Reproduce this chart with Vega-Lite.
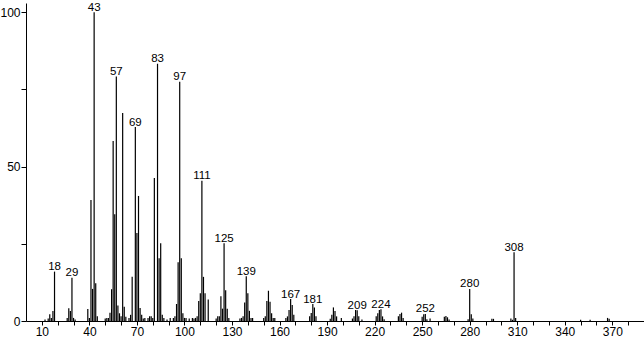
{
  "$schema": "https://vega.github.io/schema/vega-lite/v6.json",
  "width": 618,
  "height": 318,
  "autosize": {"type": "none"},
  "padding": {"left": 26, "top": 3, "right": 0, "bottom": 18},
  "background": "white",
  "config": {
    "view": {"stroke": null},
    "font": "Liberation Sans",
    "axis": {"labelFont": "Liberation Sans", "labelFontSize": 12, "labelColor": "black", "domainColor": "black", "tickColor": "black", "grid": false, "title": null}
  },
  "data": {"values": [
    {"mz": 12, "intensity": 0.5, "label": ""},
    {"mz": 14, "intensity": 0.8, "label": ""},
    {"mz": 15, "intensity": 2.2, "label": ""},
    {"mz": 16, "intensity": 1, "label": ""},
    {"mz": 17, "intensity": 3.2, "label": ""},
    {"mz": 18, "intensity": 16, "label": "18"},
    {"mz": 26, "intensity": 1, "label": ""},
    {"mz": 27, "intensity": 4.1, "label": ""},
    {"mz": 28, "intensity": 3.2, "label": ""},
    {"mz": 29, "intensity": 14, "label": "29"},
    {"mz": 30, "intensity": 1, "label": ""},
    {"mz": 31, "intensity": 0.5, "label": ""},
    {"mz": 39, "intensity": 3.9, "label": ""},
    {"mz": 40, "intensity": 1, "label": ""},
    {"mz": 41, "intensity": 39.2, "label": ""},
    {"mz": 42, "intensity": 10.4, "label": ""},
    {"mz": 43, "intensity": 100, "label": "43"},
    {"mz": 44, "intensity": 12.2, "label": ""},
    {"mz": 45, "intensity": 1.5, "label": ""},
    {"mz": 50, "intensity": 0.8, "label": ""},
    {"mz": 51, "intensity": 1, "label": ""},
    {"mz": 52, "intensity": 1, "label": ""},
    {"mz": 53, "intensity": 2.7, "label": ""},
    {"mz": 54, "intensity": 10.3, "label": ""},
    {"mz": 55, "intensity": 58.3, "label": ""},
    {"mz": 56, "intensity": 34.6, "label": ""},
    {"mz": 57, "intensity": 79.2, "label": "57"},
    {"mz": 58, "intensity": 5, "label": ""},
    {"mz": 59, "intensity": 2.5, "label": ""},
    {"mz": 60, "intensity": 1.5, "label": ""},
    {"mz": 61, "intensity": 67.4, "label": ""},
    {"mz": 62, "intensity": 4.6, "label": ""},
    {"mz": 63, "intensity": 1.4, "label": ""},
    {"mz": 65, "intensity": 1, "label": ""},
    {"mz": 66, "intensity": 2, "label": ""},
    {"mz": 67, "intensity": 14.3, "label": ""},
    {"mz": 69, "intensity": 62.8, "label": "69"},
    {"mz": 70, "intensity": 28.5, "label": ""},
    {"mz": 71, "intensity": 40.5, "label": ""},
    {"mz": 72, "intensity": 4.2, "label": ""},
    {"mz": 73, "intensity": 2, "label": ""},
    {"mz": 74, "intensity": 0.8, "label": ""},
    {"mz": 75, "intensity": 1, "label": ""},
    {"mz": 77, "intensity": 1, "label": ""},
    {"mz": 78, "intensity": 1.5, "label": ""},
    {"mz": 79, "intensity": 1.5, "label": ""},
    {"mz": 80, "intensity": 1, "label": ""},
    {"mz": 81, "intensity": 46.3, "label": ""},
    {"mz": 83, "intensity": 83.3, "label": "83"},
    {"mz": 84, "intensity": 20.3, "label": ""},
    {"mz": 85, "intensity": 25.2, "label": ""},
    {"mz": 86, "intensity": 2, "label": ""},
    {"mz": 87, "intensity": 1, "label": ""},
    {"mz": 89, "intensity": 0.5, "label": ""},
    {"mz": 91, "intensity": 1, "label": ""},
    {"mz": 93, "intensity": 1, "label": ""},
    {"mz": 94, "intensity": 1.5, "label": ""},
    {"mz": 95, "intensity": 5.5, "label": ""},
    {"mz": 96, "intensity": 19, "label": ""},
    {"mz": 97, "intensity": 77.5, "label": "97"},
    {"mz": 98, "intensity": 20.3, "label": ""},
    {"mz": 99, "intensity": 2.5, "label": ""},
    {"mz": 100, "intensity": 1, "label": ""},
    {"mz": 101, "intensity": 1, "label": ""},
    {"mz": 103, "intensity": 0.8, "label": ""},
    {"mz": 105, "intensity": 1, "label": ""},
    {"mz": 106, "intensity": 0.8, "label": ""},
    {"mz": 107, "intensity": 1, "label": ""},
    {"mz": 108, "intensity": 1.5, "label": ""},
    {"mz": 109, "intensity": 6.5, "label": ""},
    {"mz": 110, "intensity": 9, "label": ""},
    {"mz": 111, "intensity": 45.4, "label": "111"},
    {"mz": 112, "intensity": 14.3, "label": ""},
    {"mz": 113, "intensity": 9, "label": ""},
    {"mz": 115, "intensity": 7, "label": ""},
    {"mz": 120, "intensity": 0.8, "label": ""},
    {"mz": 121, "intensity": 1.5, "label": ""},
    {"mz": 122, "intensity": 1.5, "label": ""},
    {"mz": 123, "intensity": 8, "label": ""},
    {"mz": 124, "intensity": 4, "label": ""},
    {"mz": 125, "intensity": 25.2, "label": "125"},
    {"mz": 126, "intensity": 10, "label": ""},
    {"mz": 127, "intensity": 4, "label": ""},
    {"mz": 128, "intensity": 1, "label": ""},
    {"mz": 135, "intensity": 0.8, "label": ""},
    {"mz": 136, "intensity": 1, "label": ""},
    {"mz": 137, "intensity": 1.5, "label": ""},
    {"mz": 138, "intensity": 6, "label": ""},
    {"mz": 139, "intensity": 14.5, "label": "139"},
    {"mz": 140, "intensity": 9, "label": ""},
    {"mz": 141, "intensity": 3.3, "label": ""},
    {"mz": 142, "intensity": 1, "label": ""},
    {"mz": 143, "intensity": 1, "label": ""},
    {"mz": 150, "intensity": 1, "label": ""},
    {"mz": 151, "intensity": 1.5, "label": ""},
    {"mz": 152, "intensity": 6.5, "label": ""},
    {"mz": 153, "intensity": 9.8, "label": ""},
    {"mz": 154, "intensity": 6.2, "label": ""},
    {"mz": 155, "intensity": 2.5, "label": ""},
    {"mz": 156, "intensity": 1, "label": ""},
    {"mz": 157, "intensity": 1, "label": ""},
    {"mz": 164, "intensity": 1, "label": ""},
    {"mz": 165, "intensity": 1.5, "label": ""},
    {"mz": 166, "intensity": 3.6, "label": ""},
    {"mz": 167, "intensity": 7.1, "label": "167"},
    {"mz": 168, "intensity": 5.2, "label": ""},
    {"mz": 169, "intensity": 2, "label": ""},
    {"mz": 179, "intensity": 1.5, "label": ""},
    {"mz": 180, "intensity": 2.6, "label": ""},
    {"mz": 181, "intensity": 5.5, "label": "181"},
    {"mz": 182, "intensity": 4.4, "label": ""},
    {"mz": 183, "intensity": 1.5, "label": ""},
    {"mz": 192, "intensity": 0.7, "label": ""},
    {"mz": 193, "intensity": 2, "label": ""},
    {"mz": 194, "intensity": 4.4, "label": ""},
    {"mz": 195, "intensity": 3.2, "label": ""},
    {"mz": 196, "intensity": 1.5, "label": ""},
    {"mz": 199, "intensity": 1, "label": ""},
    {"mz": 206, "intensity": 0.8, "label": ""},
    {"mz": 207, "intensity": 1.5, "label": ""},
    {"mz": 208, "intensity": 3.6, "label": ""},
    {"mz": 209, "intensity": 3.5, "label": "209"},
    {"mz": 210, "intensity": 1.5, "label": ""},
    {"mz": 212, "intensity": 0.5, "label": ""},
    {"mz": 221, "intensity": 1.5, "label": ""},
    {"mz": 222, "intensity": 2.5, "label": ""},
    {"mz": 223, "intensity": 3.6, "label": ""},
    {"mz": 224, "intensity": 3.8, "label": "224"},
    {"mz": 225, "intensity": 1.5, "label": ""},
    {"mz": 226, "intensity": 0.6, "label": ""},
    {"mz": 235, "intensity": 1.5, "label": ""},
    {"mz": 236, "intensity": 2.3, "label": ""},
    {"mz": 237, "intensity": 2.7, "label": ""},
    {"mz": 238, "intensity": 1, "label": ""},
    {"mz": 250, "intensity": 1.4, "label": ""},
    {"mz": 251, "intensity": 2.2, "label": ""},
    {"mz": 252, "intensity": 2.3, "label": "252"},
    {"mz": 253, "intensity": 0.6, "label": ""},
    {"mz": 255, "intensity": 0.8, "label": ""},
    {"mz": 264, "intensity": 1.4, "label": ""},
    {"mz": 265, "intensity": 1.6, "label": ""},
    {"mz": 266, "intensity": 1.2, "label": ""},
    {"mz": 267, "intensity": 0.5, "label": ""},
    {"mz": 279, "intensity": 0.6, "label": ""},
    {"mz": 280, "intensity": 10.4, "label": "280"},
    {"mz": 281, "intensity": 2.2, "label": ""},
    {"mz": 282, "intensity": 0.8, "label": ""},
    {"mz": 294, "intensity": 0.7, "label": ""},
    {"mz": 295, "intensity": 0.7, "label": ""},
    {"mz": 306, "intensity": 0.8, "label": ""},
    {"mz": 307, "intensity": 0.4, "label": ""},
    {"mz": 308, "intensity": 22.3, "label": "308"},
    {"mz": 309, "intensity": 1, "label": ""},
    {"mz": 350, "intensity": 0.4, "label": ""},
    {"mz": 356, "intensity": 0.4, "label": ""},
    {"mz": 367, "intensity": 1, "label": ""},
    {"mz": 368, "intensity": 0.7, "label": ""}
  ]},
  "encoding": {
    "x": {"field": "mz", "type": "quantitative",
      "scale": {"domain": [0, 390], "nice": false, "zero": false},
      "axis": {"values": [10, 20, 30, 40, 50, 60, 70, 80, 90, 100, 110, 120, 130, 140, 150, 160, 170, 180, 190, 200, 210, 220, 230, 240, 250, 260, 270, 280, 290, 300, 310, 320, 330, 340, 350, 360, 370, 380],
        "labelExpr": "(datum.value - 10) % 30 == 0 ? datum.label : ''",
        "labelOverlap": false, "labelFlush": false, "tickSize": 4, "labelPadding": 1, "format": "d"}},
    "y": {"field": "intensity", "type": "quantitative",
      "scale": {"domain": [0, 103], "nice": false},
      "axis": {"values": [0, 25, 50, 75, 100],
        "labelExpr": "datum.value % 50 == 0 ? datum.label : ''",
        "labelOverlap": false, "labelFlush": false, "tickSize": 5, "labelPadding": 1}}
  },
  "layer": [
    {"mark": {"type": "rule", "color": "black", "strokeWidth": 1.2},
     "encoding": {"y2": {"datum": 0}}},
    {"transform": [{"filter": "datum.label != ''"}],
     "mark": {"type": "text", "baseline": "alphabetic", "align": "center", "dy": -1.5, "fontSize": 11.5, "font": "Liberation Sans", "color": "black"},
     "encoding": {"text": {"field": "label"}}}
  ]
}
